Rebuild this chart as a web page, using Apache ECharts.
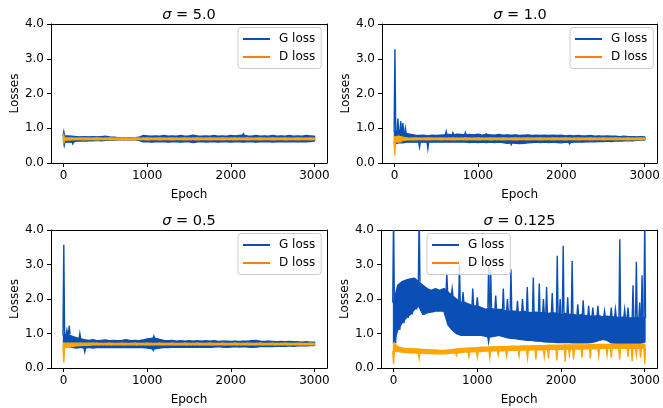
<!DOCTYPE html>
<html><head><meta charset="utf-8">
<script src="https://cdn.jsdelivr.net/npm/echarts@6/dist/echarts.min.js"></script>
<style>html,body{margin:0;padding:0;background:#fff}#c{width:663px;height:408px}</style>
</head><body><div id="c"></div>
<script>
// Epoch bins: for each bin the band top (Hi) and band bottom (Lo) of the noisy curve
const epochs = [0,50,100,150,200,250,300,350,400,450,500,550,600,650,700,750,800,850,900,950,
1000,1050,1100,1150,1200,1250,1300,1350,1400,1450,1500,1550,1600,1650,1700,1750,1800,1850,1900,1950,
2000,2050,2100,2150,2200,2250,2300,2350,2400,2450,2500,2550,2600,2650,2700,2750,2800,2850,2900,2950,3000];

const sigmas = ['5.0', '1.0', '0.5', '0.125'];
const xTicks = [0, 1000, 2000, 3000];

// ---- sigma = 5.0
const g1Hi = [0.78,0.78,0.77,0.76,0.75,0.76,0.75,0.76,0.75,0.76,0.77,0.75,0.74,0.73,0.73,0.72,0.73,0.72,0.74,0.79,
0.78,0.77,0.78,0.77,0.79,0.77,0.78,0.77,0.79,0.77,0.78,0.80,0.78,0.77,0.78,0.77,0.79,0.77,0.78,0.77,
0.79,0.78,0.79,0.80,0.78,0.77,0.79,0.77,0.78,0.77,0.79,0.77,0.78,0.77,0.79,0.77,0.78,0.77,0.79,0.78,0.77];
const g1Lo = [0.60,0.60,0.60,0.63,0.64,0.63,0.64,0.64,0.65,0.64,0.65,0.65,0.66,0.67,0.67,0.67,0.67,0.67,0.65,0.61,
0.62,0.60,0.62,0.61,0.62,0.60,0.62,0.61,0.60,0.62,0.61,0.59,0.61,0.62,0.60,0.62,0.61,0.60,0.62,0.61,
0.60,0.62,0.61,0.60,0.62,0.61,0.60,0.62,0.61,0.62,0.60,0.62,0.61,0.62,0.61,0.62,0.61,0.62,0.61,0.62,0.63];
const g1Spikes = [[3,0.90],[2150,0.84]];
const g1Dips = [[8,0.50],[110,0.55]];
const d1Hi = [0.72,0.72,0.72,0.715,0.715,0.72,0.715,0.715,0.72,0.715,0.715,0.72,0.715,0.715,0.72,0.715,0.715,0.72,0.715,0.715,
0.72,0.715,0.715,0.72,0.715,0.715,0.72,0.715,0.715,0.72,0.715,0.715,0.72,0.715,0.715,0.72,0.715,0.715,0.72,0.715,
0.715,0.72,0.715,0.715,0.72,0.715,0.715,0.72,0.715,0.715,0.72,0.715,0.715,0.72,0.715,0.715,0.72,0.715,0.715,0.72,0.715];
const d1Lo = [0.66,0.66,0.67,0.675,0.675,0.67,0.675,0.675,0.67,0.675,0.675,0.67,0.675,0.675,0.67,0.675,0.675,0.67,0.675,0.675,
0.67,0.675,0.675,0.67,0.675,0.675,0.67,0.675,0.675,0.67,0.675,0.675,0.67,0.675,0.675,0.67,0.675,0.675,0.67,0.675,
0.675,0.67,0.675,0.675,0.67,0.675,0.675,0.67,0.675,0.675,0.67,0.675,0.675,0.67,0.675,0.675,0.67,0.675,0.675,0.67,0.675];
const d1Spikes = [[2,0.80]];
const d1Dips = [[4,0.58]];

// ---- sigma = 1.0
const g2Hi = [0.90,0.95,0.90,0.84,0.82,0.80,0.79,0.80,0.78,0.80,0.79,0.80,0.81,0.82,0.81,0.83,0.82,0.81,0.82,0.81,
0.83,0.80,0.82,0.81,0.80,0.82,0.80,0.81,0.80,0.81,0.79,0.80,0.81,0.79,0.80,0.79,0.80,0.79,0.80,0.79,
0.80,0.78,0.79,0.78,0.79,0.78,0.78,0.79,0.77,0.78,0.77,0.78,0.77,0.77,0.76,0.77,0.76,0.76,0.75,0.76,0.75];
const g2Lo = [0.55,0.58,0.58,0.60,0.60,0.60,0.60,0.60,0.60,0.60,0.61,0.60,0.61,0.60,0.61,0.60,0.61,0.60,0.59,0.60,
0.59,0.60,0.59,0.60,0.59,0.60,0.59,0.57,0.58,0.57,0.56,0.57,0.58,0.59,0.60,0.59,0.60,0.59,0.60,0.59,
0.58,0.60,0.59,0.60,0.61,0.60,0.61,0.62,0.61,0.62,0.62,0.63,0.62,0.63,0.63,0.64,0.64,0.64,0.65,0.65,0.66];
const g2Spikes = [[5,3.27],[40,1.28],[75,1.20],[100,1.15],[130,1.00],[620,0.91],[700,0.87],[850,0.88],[1100,0.84]];
const g2Dips = [[300,0.46],[400,0.42],[1400,0.53],[2100,0.55]];
const d2Hi = [0.75,0.77,0.74,0.72,0.715,0.72,0.715,0.715,0.72,0.715,0.715,0.72,0.715,0.715,0.72,0.715,0.715,0.72,0.715,0.715,
0.72,0.715,0.715,0.72,0.715,0.715,0.72,0.715,0.715,0.72,0.715,0.715,0.72,0.715,0.715,0.72,0.715,0.715,0.72,0.715,
0.715,0.72,0.715,0.715,0.72,0.715,0.715,0.72,0.715,0.715,0.72,0.715,0.715,0.72,0.715,0.715,0.72,0.715,0.715,0.72,0.715];
const d2Lo = [0.62,0.60,0.65,0.67,0.675,0.67,0.675,0.675,0.67,0.675,0.675,0.67,0.675,0.675,0.67,0.675,0.675,0.67,0.675,0.675,
0.67,0.675,0.675,0.67,0.675,0.675,0.67,0.675,0.675,0.67,0.675,0.675,0.67,0.675,0.675,0.67,0.675,0.675,0.67,0.675,
0.675,0.67,0.675,0.675,0.67,0.675,0.675,0.67,0.675,0.675,0.67,0.675,0.675,0.67,0.675,0.675,0.67,0.675,0.675,0.67,0.675];
const d2Spikes = [];
const d2Dips = [[3,0.22]];

// ---- sigma = 0.5
const g3Hi = [0.95,0.98,0.92,0.88,0.85,0.82,0.80,0.82,0.79,0.80,0.81,0.79,0.80,0.79,0.80,0.82,0.79,0.80,0.79,0.81,
0.84,0.86,0.86,0.83,0.80,0.79,0.80,0.78,0.79,0.78,0.79,0.78,0.79,0.78,0.79,0.78,0.79,0.77,0.78,0.78,
0.77,0.78,0.77,0.78,0.78,0.79,0.80,0.78,0.77,0.78,0.77,0.76,0.77,0.76,0.77,0.76,0.76,0.75,0.76,0.75,0.75];
const g3Lo = [0.60,0.62,0.60,0.58,0.60,0.58,0.60,0.58,0.60,0.59,0.60,0.59,0.60,0.59,0.60,0.59,0.60,0.59,0.60,0.59,
0.58,0.56,0.56,0.58,0.60,0.59,0.60,0.60,0.61,0.60,0.61,0.60,0.61,0.60,0.61,0.60,0.61,0.62,0.61,0.60,
0.61,0.62,0.61,0.62,0.61,0.60,0.61,0.62,0.62,0.63,0.62,0.63,0.63,0.63,0.64,0.63,0.64,0.64,0.64,0.65,0.65];
const g3Spikes = [[3,3.57],[40,1.10],[68,1.22],[195,1.00],[1080,0.93]];
const g3Dips = [[254,0.47],[1073,0.51]];
const d3Hi = [0.72,0.72,0.72,0.72,0.72,0.72,0.72,0.72,0.72,0.715,0.715,0.72,0.715,0.715,0.72,0.715,0.715,0.72,0.715,0.715,
0.72,0.715,0.715,0.72,0.715,0.715,0.72,0.715,0.715,0.72,0.715,0.715,0.72,0.715,0.715,0.72,0.715,0.715,0.72,0.715,
0.715,0.72,0.715,0.715,0.72,0.715,0.715,0.72,0.715,0.715,0.72,0.715,0.715,0.72,0.715,0.715,0.72,0.715,0.715,0.72,0.715];
const d3Lo = [0.60,0.60,0.62,0.64,0.65,0.66,0.66,0.67,0.67,0.675,0.675,0.67,0.675,0.675,0.67,0.675,0.675,0.67,0.675,0.675,
0.67,0.675,0.675,0.67,0.675,0.675,0.67,0.675,0.675,0.67,0.675,0.675,0.67,0.675,0.675,0.67,0.675,0.675,0.67,0.675,
0.675,0.67,0.675,0.675,0.67,0.675,0.675,0.67,0.675,0.675,0.67,0.675,0.675,0.67,0.675,0.675,0.67,0.675,0.675,0.67,0.675];
const d3Spikes = [];
const d3Dips = [[3,0.15]];

// ---- sigma = 0.125
const g4Hi = [1.90,2.40,2.50,2.55,2.58,2.60,2.50,2.40,2.30,2.25,2.30,2.25,2.30,2.20,2.10,2.00,1.90,1.90,1.85,1.80,
1.80,1.75,1.70,1.75,1.70,1.70,1.70,1.65,1.65,1.65,1.62,1.65,1.62,1.60,1.62,1.60,1.60,1.58,1.60,1.58,
1.55,1.58,1.55,1.55,1.52,1.55,1.52,1.50,1.50,1.52,1.48,1.50,1.48,1.48,1.46,1.48,1.46,1.45,1.46,1.45,1.45];
const g4Lo = [0.72,1.10,1.30,1.45,1.55,1.70,1.80,1.55,1.60,1.62,1.65,1.65,1.65,1.25,1.10,1.00,0.95,0.95,0.95,0.95,
0.95,0.95,0.92,0.90,0.92,0.95,0.92,0.88,0.86,0.85,0.83,0.82,0.80,0.80,0.78,0.78,0.76,0.75,0.75,0.74,
0.74,0.74,0.74,0.73,0.74,0.73,0.73,0.74,0.76,0.80,0.83,0.80,0.73,0.72,0.72,0.72,0.72,0.72,0.72,0.72,0.75];
const g4Spikes = [[0,4.5],[306,4.5],[636,2.74],[700,2.30],[787,3.00],[830,2.20],[946,2.30],[1000,2.05],[1136,3.03],
[1160,2.85],[1220,2.10],[1311,2.30],[1360,2.00],[1402,2.86],[1480,1.95],[1540,2.00],[1597,2.35],[1669,2.62],
[1740,2.45],[1790,2.00],[1828,2.35],[1895,2.17],[1955,3.25],[1990,2.00],[2026,3.54],[2080,2.05],[2133,3.10],
[2200,1.85],[2265,1.96],[2330,1.80],[2380,1.75],[2440,1.80],[2520,1.65],[2600,1.75],[2650,1.70],[2702,3.73],
[2760,1.70],[2800,1.75],[2860,2.40],[2900,3.08],[2940,1.90],[2968,2.69],[3000,4.5]];
const g4Dips = [[1135,0.75]];
const d4Hi = [0.72,0.62,0.58,0.56,0.56,0.55,0.55,0.54,0.53,0.52,0.52,0.51,0.51,0.52,0.53,0.55,0.56,0.57,0.58,0.58,
0.59,0.60,0.60,0.61,0.61,0.62,0.62,0.62,0.63,0.63,0.63,0.64,0.64,0.64,0.65,0.65,0.65,0.66,0.66,0.66,
0.66,0.67,0.67,0.67,0.67,0.67,0.67,0.68,0.68,0.68,0.68,0.68,0.68,0.68,0.68,0.68,0.68,0.68,0.68,0.68,0.68];
const d4Lo = [0.50,0.48,0.46,0.45,0.44,0.44,0.43,0.43,0.42,0.42,0.41,0.41,0.41,0.42,0.43,0.44,0.45,0.46,0.47,0.47,
0.48,0.48,0.49,0.49,0.50,0.50,0.50,0.51,0.51,0.51,0.52,0.52,0.52,0.53,0.53,0.53,0.53,0.54,0.54,0.54,
0.54,0.55,0.55,0.55,0.55,0.55,0.56,0.56,0.56,0.56,0.57,0.57,0.57,0.57,0.57,0.57,0.57,0.57,0.57,0.57,0.57];
const d4Spikes = [];
const d4Dips = [[0,0.12],[306,0.28],[750,0.36],[900,0.33],[1000,0.32],[1150,0.30],[1250,0.38],[1350,0.35],
[1500,0.35],[1600,0.30],[1700,0.25],[1800,0.33],[1850,0.28],[1950,0.22],[2050,0.18],[2100,0.38],[2150,0.25],
[2250,0.30],[2350,0.28],[2450,0.35],[2550,0.38],[2600,0.30],[2700,0.25],[2800,0.32],[2850,0.20],[2900,0.38],
[2950,0.30],[3000,0.12]];

const G = [[g1Hi,g1Lo,g1Spikes,g1Dips],[g2Hi,g2Lo,g2Spikes,g2Dips],[g3Hi,g3Lo,g3Spikes,g3Dips],[g4Hi,g4Lo,g4Spikes,g4Dips]];
const D = [[d1Hi,d1Lo,d1Spikes,d1Dips],[d2Hi,d2Lo,d2Spikes,d2Dips],[d3Hi,d3Lo,d3Spikes,d3Dips],[d4Hi,d4Lo,d4Spikes,d4Dips]];

function zigzag(hi, lo) {
  const pts = [];
  for (let i = 0; i < epochs.length; i++) {
    pts.push([epochs[i], hi[i]]);
    pts.push([Math.min(epochs[i] + 25, 3000), lo[i]]);
  }
  return pts;
}

const FONT = 'DejaVu Sans';
const G_COLOR = '#0b4fb6', D_COLOR = '#ffa500', D_LEGEND = '#ff7f0e';
const LW = 1.4;
const gridBoxes = [
  {left: 51, top: 24, width: 276, height: 139},
  {left: 382, top: 24, width: 276, height: 139},
  {left: 51, top: 230, width: 276, height: 138},
  {left: 381, top: 230, width: 277, height: 138}
];
const legendPos = [[238, 27.5], [570, 27.5], [238, 233.5], [427, 233.5]];
const titleTop = [8, 214];

function bandSeries(k, hi, lo, color, z) {
  return {
    type: 'custom', xAxisIndex: k, yAxisIndex: k, silent: true, clip: true, z: z,
    data: [[0, 0]],
    renderItem: function (params, api) {
      const pts = [];
      for (let i = 0; i < epochs.length; i++) pts.push(api.coord([epochs[i], hi[i]]));
      for (let i = epochs.length - 1; i >= 0; i--) pts.push(api.coord([epochs[i], lo[i]]));
      return {type: 'polygon', shape: {points: pts},
        style: {fill: color, stroke: color, lineWidth: LW, lineJoin: 'round'}};
    }
  };
}

function spikeSeries(k, list, ref, color, z) {
  return {
    type: 'custom', xAxisIndex: k, yAxisIndex: k, silent: true, clip: true, z: z,
    data: list,
    renderItem: function (params, api) {
      const e = api.value(0), v = api.value(1);
      const b = ref[Math.round(e / 50)];
      const p1 = api.coord([e, b]), p2 = api.coord([e, v]);
      return {type: 'polyline', shape: {points: [[p1[0] - 0.8, p1[1]], [p2[0], p2[1]], [p1[0] + 0.8, p1[1]]]},
        style: {stroke: color, lineWidth: LW, fill: null}};
    }
  };
}

const option = {
  animation: false,
  backgroundColor: '#fff',
  textStyle: {fontFamily: FONT},
  title: gridBoxes.map((g, k) => ({
    text: '{i|σ} = ' + sigmas[k],
    left: g.left + g.width / 2,
    textAlign: 'center',
    top: titleTop[Math.floor(k / 2)],
    padding: 0,
    textStyle: {fontSize: 14.5, fontWeight: 'normal', color: '#000', fontFamily: FONT,
      rich: {i: {fontStyle: 'italic', fontSize: 14.5, color: '#000', fontFamily: FONT}}}
  })),
  grid: gridBoxes.map(g => Object.assign({show: false, containLabel: false}, g)),
  legend: legendPos.map(p => ({
    left: p[0], top: p[1], orient: 'vertical', selectedMode: false, z: 10,
    icon: 'rect', itemWidth: 27, itemHeight: 2, itemGap: 5,
    padding: [5, 6, 5, 5],
    backgroundColor: 'rgba(255,255,255,0.8)', borderColor: '#cccccc', borderWidth: 1, borderRadius: 3,
    textStyle: {fontSize: 12, lineHeight: 13, color: '#000', fontFamily: FONT, padding: [0, 0, 0, 4]},
    data: [
      {name: 'G loss', itemStyle: {color: G_COLOR}},
      {name: 'D loss', itemStyle: {color: D_LEGEND}}
    ]
  })),
  xAxis: [],
  yAxis: [],
  series: []
};

const axisLineStyle = {show: true, onZero: false, lineStyle: {color: '#000', width: 1}};
for (let k = 0; k < 4; k++) {
  // bottom axis (with ticks and labels) and plain top spine
  option.xAxis.push({
    type: 'value', gridIndex: k, min: -150, max: 3150, position: 'bottom',
    name: 'Epoch', nameLocation: 'middle', nameGap: 26,
    nameTextStyle: {fontSize: 12, color: '#000', fontFamily: FONT},
    axisLine: axisLineStyle,
    axisTick: {show: true, inside: false, length: 4, customValues: xTicks, lineStyle: {color: '#000', width: 1}},
    axisLabel: {show: true, margin: 7, customValues: xTicks, fontSize: 12, color: '#000', fontFamily: FONT,
      formatter: v => String(v)},
    splitLine: {show: false}
  });
  option.xAxis.push({
    type: 'value', gridIndex: k, min: -150, max: 3150, position: 'top',
    axisLine: axisLineStyle, axisTick: {show: false}, axisLabel: {show: false}, splitLine: {show: false}
  });
  option.yAxis.push({
    type: 'value', gridIndex: k, min: 0, max: 4, interval: 1, position: 'left',
    name: 'Losses', nameLocation: 'middle', nameGap: 30, nameRotate: 90,
    nameTextStyle: {fontSize: 12, color: '#000', fontFamily: FONT},
    axisLine: axisLineStyle,
    axisTick: {show: true, inside: false, length: 4, lineStyle: {color: '#000', width: 1}},
    axisLabel: {margin: 7, fontSize: 12, color: '#000', fontFamily: FONT, formatter: v => v.toFixed(1)},
    splitLine: {show: false}
  });
  option.yAxis.push({
    type: 'value', gridIndex: k, min: 0, max: 4, interval: 1, position: 'right',
    axisLine: axisLineStyle, axisTick: {show: false}, axisLabel: {show: false}, splitLine: {show: false}
  });
}

for (let k = 0; k < 4; k++) {
  const g = G[k], d = D[k];
  const xi = 2 * k, yi = 2 * k;
  const fix = s => Object.assign(s, {xAxisIndex: xi, yAxisIndex: yi});
  option.series.push(fix({
    name: 'G loss', type: 'line', symbol: 'none', silent: true,
    data: zigzag(g[0], g[1]), lineStyle: {color: G_COLOR, width: LW}, itemStyle: {color: G_COLOR}, z: 2
  }));
  option.series.push(fix(bandSeries(k, g[0], g[1], G_COLOR, 2)));
  option.series.push(fix(spikeSeries(k, g[2], g[0], G_COLOR, 2)));
  option.series.push(fix(spikeSeries(k, g[3], g[1], G_COLOR, 2)));
  option.series.push(fix({
    name: 'D loss', type: 'line', symbol: 'none', silent: true,
    data: zigzag(d[0], d[1]), lineStyle: {color: D_COLOR, width: LW}, itemStyle: {color: D_COLOR}, z: 3
  }));
  option.series.push(fix(bandSeries(k, d[0], d[1], D_COLOR, 3)));
  option.series.push(fix(spikeSeries(k, d[2], d[0], D_COLOR, 3)));
  option.series.push(fix(spikeSeries(k, d[3], d[1], D_COLOR, 3)));
}

const chart = echarts.init(document.getElementById('c'), null, {renderer: 'canvas'});
chart.setOption(option);
</script>
</body></html>
